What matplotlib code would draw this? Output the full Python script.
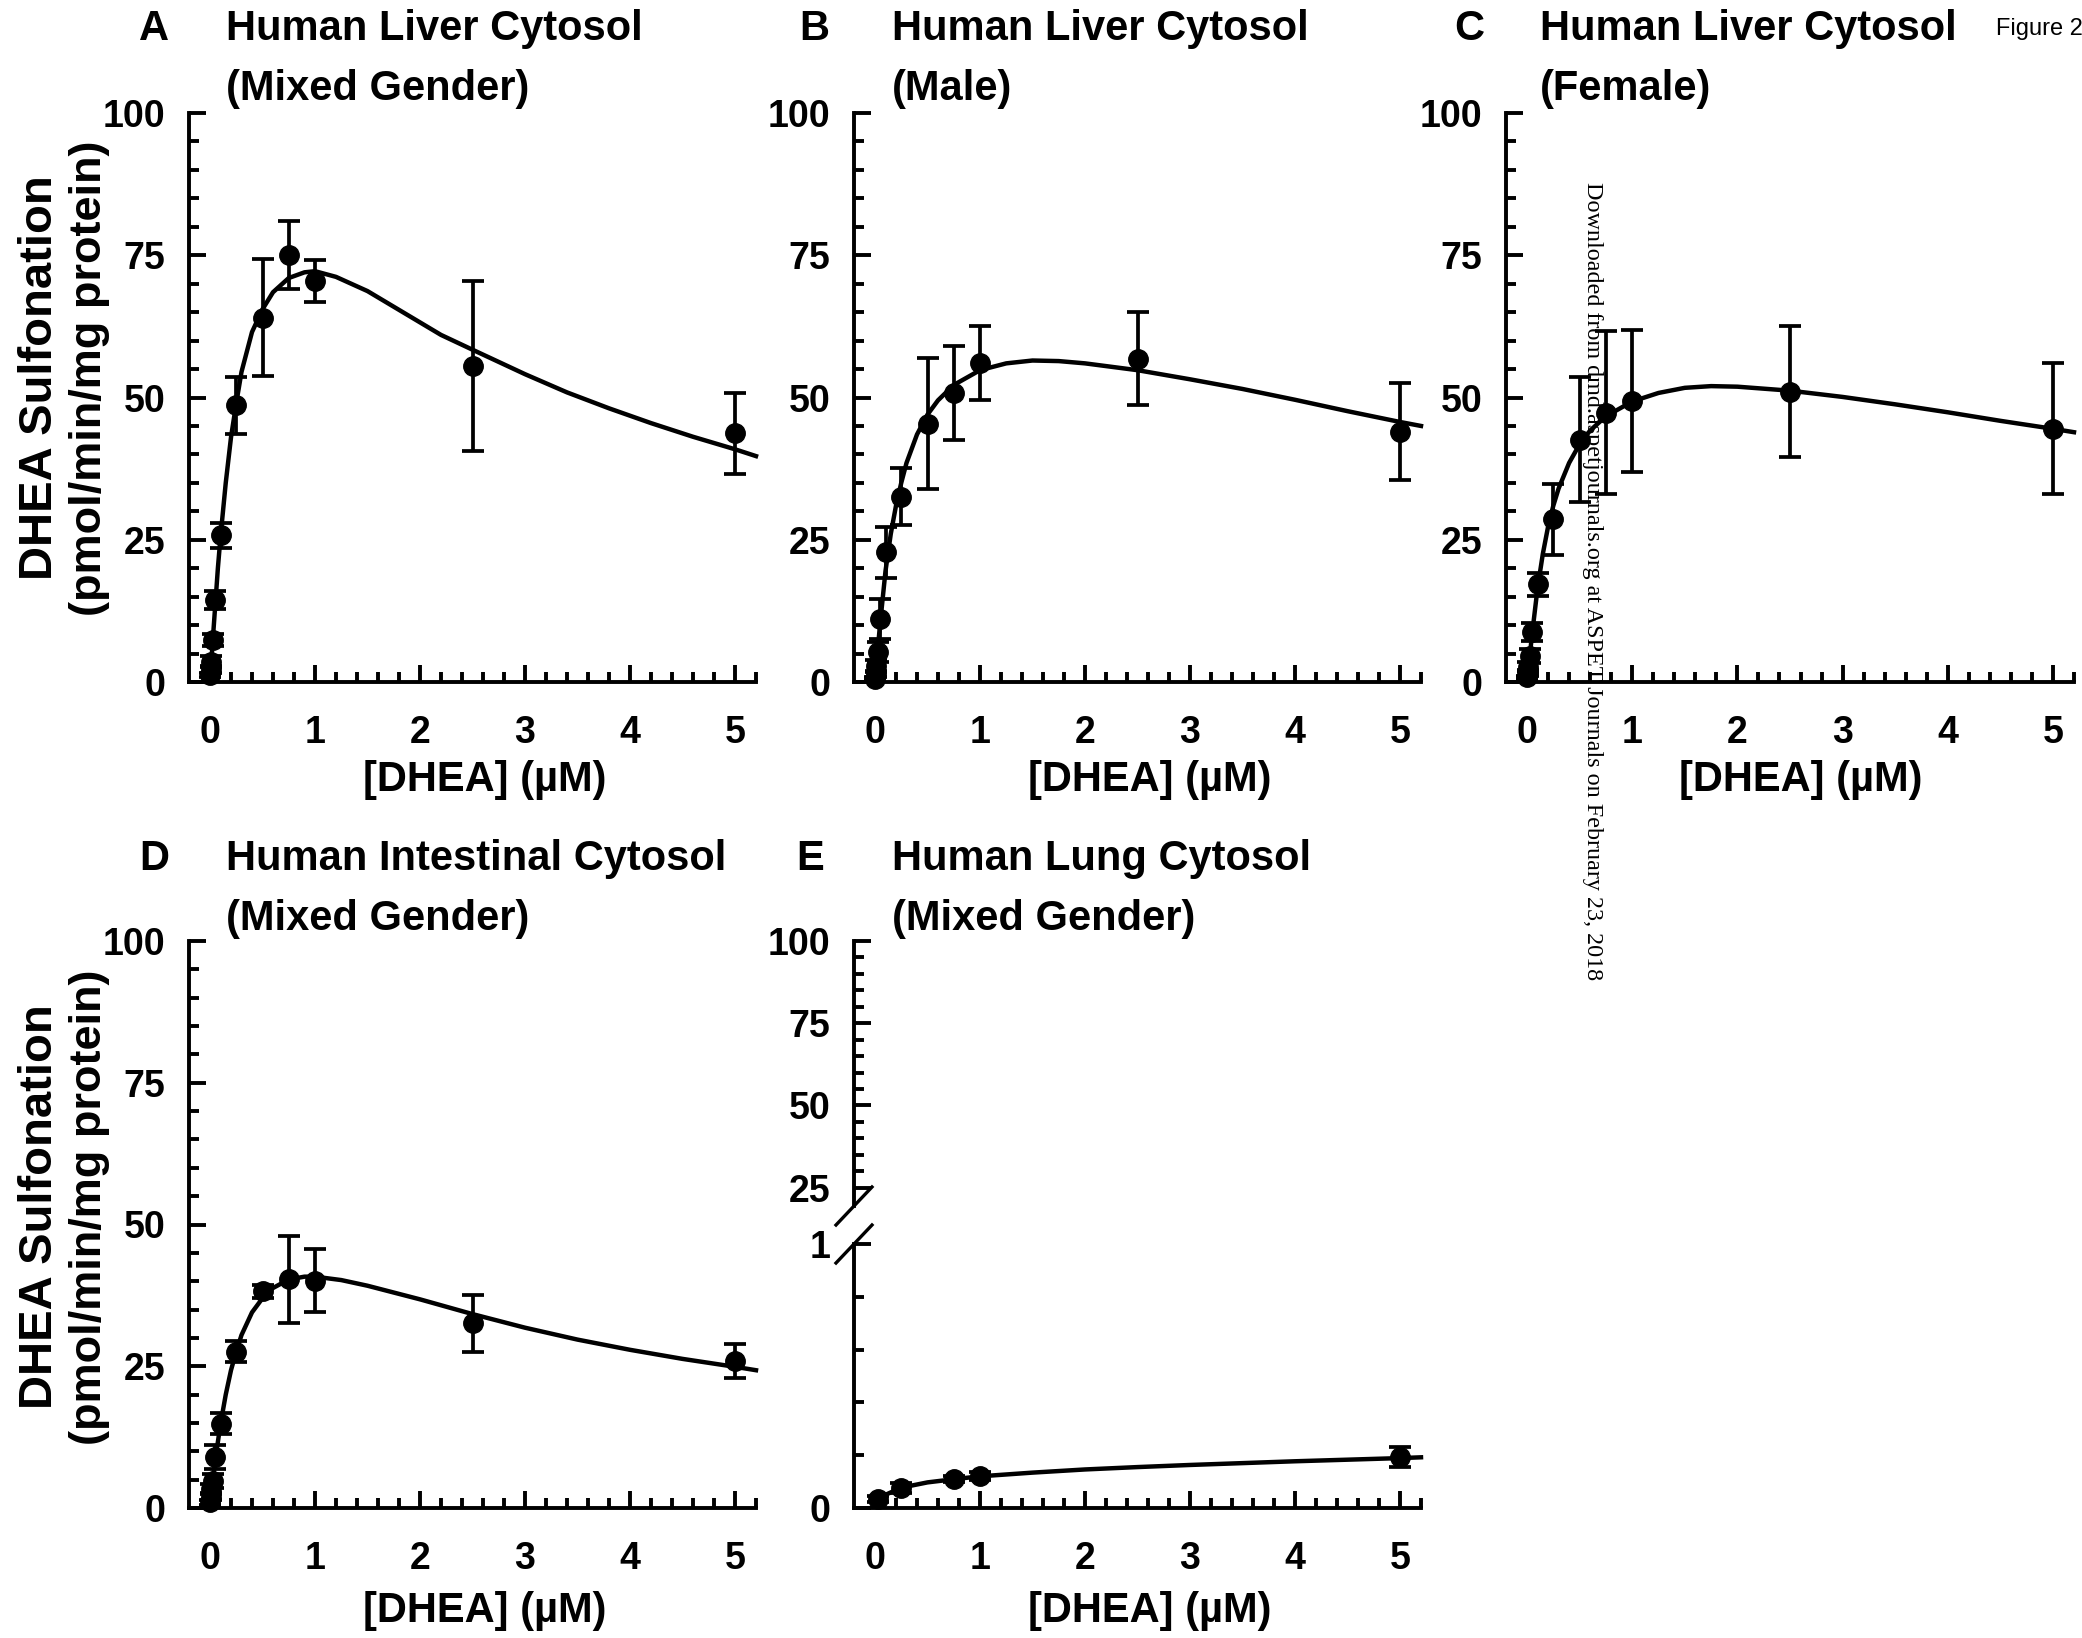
import numpy as np
import matplotlib
matplotlib.use('Agg')
import matplotlib.pyplot as plt
from matplotlib.ticker import FixedLocator
from matplotlib.lines import Line2D

plt.rcParams['font.family'] = ['Liberation Sans', 'DejaVu Sans']
plt.rcParams['font.weight'] = 'bold'

W, H = 2082, 1638

# measured concentrations (uM)
conc = [0.0025, 0.005, 0.01, 0.025, 0.05, 0.1, 0.25, 0.5, 0.75, 1, 2.5, 5]

# A: liver, mixed gender
a_mean = [1.2, 2.2, 3.6, 7.4, 14.4, 25.8, 48.6, 64.0, 75.0, 70.4, 55.5, 43.7]
a_sd = [0.4, 0.6, 0.9, 1.0, 1.6, 2.2, 5.0, 10.3, 6.0, 3.7, 14.9, 7.1]
# B: liver, male
b_mean = [0.6, 1.4, 2.8, 5.3, 11.0, 22.8, 32.6, 45.4, 50.8, 56.1, 56.8, 44.0]
b_sd = [0.3, 0.6, 1.0, 1.8, 3.5, 4.5, 5.0, 11.5, 8.2, 6.5, 8.2, 8.5]
# C: liver, female
c_mean = [0.8, 1.6, 2.6, 4.6, 8.8, 17.2, 28.6, 42.6, 47.3, 49.4, 51.0, 44.5]
c_sd = [0.3, 0.5, 0.9, 1.2, 1.6, 2.0, 6.2, 11.0, 14.3, 12.5, 11.5, 11.5]
# D: intestine
d_mean = [1.0, 2.0, 3.4, 4.8, 9.0, 14.9, 27.6, 38.2, 40.3, 40.1, 32.6, 26.0]
d_sd = [0.4, 0.6, 0.9, 1.2, 2.1, 1.8, 1.8, 1.2, 7.7, 5.5, 5.0, 3.0]
# E: lung
e_conc = [0.025, 0.25, 0.75, 1, 5]
e_mean = [0.035, 0.075, 0.11, 0.121, 0.192]
e_sd = [0.012, 0.018, 0.012, 0.014, 0.038]

# fitted curves
a_cx = [0, 0.025, 0.05, 0.075, 0.1, 0.15, 0.2, 0.25, 0.3, 0.4, 0.5, 0.6, 0.75, 0.9, 1.0,
        1.2, 1.5, 1.8, 2.2, 2.5, 3.0, 3.4, 3.8, 4.2, 4.6, 5.0, 5.2]
a_cy = [0, 7, 13.5, 20, 25.5, 35, 43, 49, 54.5, 61.5, 65.5, 68.5, 71, 72, 72.2,
        71.2, 68.7, 65.4, 61, 58.4, 54.1, 50.9, 48.1, 45.5, 43.1, 40.9, 39.7]
b_cx = [0, 0.025, 0.05, 0.1, 0.15, 0.2, 0.25, 0.3, 0.4, 0.5, 0.6, 0.75, 1.0, 1.25,
        1.5, 1.75, 2.0, 2.5, 3.0, 3.5, 4.0, 4.5, 5.0, 5.2]
b_cy = [0, 5.5, 10.5, 19.5, 26, 31, 35, 38.5, 43.5, 47, 49.5, 52.2, 54.8, 56,
        56.5, 56.4, 56, 54.8, 53.2, 51.5, 49.6, 47.6, 45.7, 45]
c_cx = [0, 0.025, 0.05, 0.1, 0.15, 0.2, 0.25, 0.3, 0.4, 0.5, 0.6, 0.75, 1.0, 1.25,
        1.5, 1.75, 2.0, 2.5, 3.0, 3.5, 4.0, 4.5, 5.0, 5.2]
c_cy = [0, 4.5, 8.7, 16.5, 22.5, 27.3, 31, 34, 38.5, 41.8, 44.2, 46.7, 49.3, 50.8,
        51.7, 52, 51.9, 51.2, 50.1, 48.8, 47.4, 45.9, 44.5, 43.9]
d_cx = [0, 0.025, 0.05, 0.1, 0.15, 0.2, 0.25, 0.3, 0.4, 0.5, 0.6, 0.75, 0.9, 1.0,
        1.25, 1.5, 2.0, 2.5, 3.0, 3.5, 4.0, 4.5, 5.0, 5.2]
d_cy = [0, 4.5, 8.5, 14.8, 20, 24.3, 27.6, 30.5, 34.5, 37, 38.8, 40.3, 40.8, 40.8,
        40.2, 39.2, 36.8, 34.2, 31.8, 29.7, 27.9, 26.3, 24.9, 24.3]
e_cx = [0, 0.1, 0.25, 0.5, 0.75, 1, 1.5, 2, 2.5, 3, 3.5, 4, 4.5, 5, 5.2]
e_cy = [0.03, 0.05, 0.077, 0.097, 0.109, 0.12, 0.134, 0.146, 0.155, 0.163, 0.17,
        0.177, 0.183, 0.189, 0.192]

titles = ['Human Liver Cytosol\n(Mixed Gender)', 'Human Liver Cytosol\n(Male)',
          'Human Liver Cytosol\n(Female)', 'Human Intestinal Cytosol\n(Mixed Gender)',
          'Human Lung Cytosol\n(Mixed Gender)']
letters = ['A', 'B', 'C', 'D', 'E']

fig = plt.figure(figsize=(W / 100, H / 100), dpi=100)


def add_ax(l, t, r, b):
    return fig.add_axes([l / W, 1 - b / H, (r - l) / W, (b - t) / H])


def ftext(x, y, s, **kw):
    fig.text(x / W, 1 - y / H, s, **kw)


LW = 2.8
TICKFS = 27


def style_x(ax):
    ax.set_xlim(-0.2, 5.2)
    ax.xaxis.set_major_locator(FixedLocator([0, 1, 2, 3, 4, 5]))
    minors = [round(v, 1) for v in np.arange(0.2, 5.25, 0.2) if abs(v - round(v)) > 0.01]
    ax.xaxis.set_minor_locator(FixedLocator(minors))
    ax.tick_params(axis='x', which='major', direction='in', length=12, width=LW,
                   pad=24, labelsize=TICKFS)
    ax.tick_params(axis='x', which='minor', direction='in', length=7, width=LW)


def style_y(ax):
    ax.tick_params(axis='y', which='major', direction='in', length=12, width=LW,
                   pad=17, labelsize=TICKFS)
    ax.tick_params(axis='y', which='minor', direction='in', length=7, width=LW)


def draw(ax, x, m, s, cx, cy):
    ax.plot(cx, cy, color='k', lw=3.2, clip_on=False, zorder=3)
    ax.errorbar(x, m, yerr=s, fmt='o', color='k', ms=14, capsize=8,
                elinewidth=2.7, capthick=2.7, clip_on=False, zorder=4)


boxes = [(189, 113, 756, 682), (854, 113, 1421, 682), (1506, 113, 2074, 682),
         (189, 941, 756, 1508)]
series = [(a_mean, a_sd, a_cx, a_cy), (b_mean, b_sd, b_cx, b_cy),
          (c_mean, c_sd, c_cx, c_cy), (d_mean, d_sd, d_cx, d_cy)]

for box, (m, s, cx, cy) in zip(boxes, series):
    ax = add_ax(*box)
    for sp in ['top', 'right']:
        ax.spines[sp].set_visible(False)
    for sp in ['left', 'bottom']:
        ax.spines[sp].set_linewidth(LW)
    draw(ax, conc, m, s, cx, cy)
    ax.set_ylim(0, 100)
    ax.yaxis.set_major_locator(FixedLocator([0, 25, 50, 75, 100]))
    ax.yaxis.set_minor_locator(FixedLocator([v for v in range(5, 100, 5) if v % 25]))
    style_x(ax)
    style_y(ax)

# E: broken y axis
l, t, r, b = 854, 941, 1421, 1508
brk_lo, brk_hi = 1244, 1206
ax_lo = add_ax(l, brk_lo, r, b)
ax_hi = add_ax(l, t, r, brk_hi)
for ax in (ax_lo, ax_hi):
    ax.spines['top'].set_visible(False)
    ax.spines['right'].set_visible(False)
    ax.spines['left'].set_linewidth(LW)
    ax.spines['bottom'].set_linewidth(LW)
    style_y(ax)
ax_hi.spines['bottom'].set_visible(False)
ax_hi.set_xlim(-0.2, 5.2)
ax_hi.set_xticks([])
ax_hi.set_ylim(19.4, 100)
ax_hi.yaxis.set_major_locator(FixedLocator([25, 50, 75, 100]))
ax_hi.yaxis.set_minor_locator(FixedLocator([v for v in range(30, 100, 5) if v % 25]))
ax_hi.patch.set_visible(False)

draw(ax_lo, e_conc, e_mean, e_sd, e_cx, e_cy)
ax_lo.set_ylim(0, 1)
ax_lo.yaxis.set_major_locator(FixedLocator([0, 1]))
ax_lo.yaxis.set_minor_locator(FixedLocator([0.2, 0.4, 0.6, 0.8]))
style_x(ax_lo)
ax_lo.patch.set_visible(False)

for yc in (brk_hi, brk_lo):
    fig.add_artist(Line2D([(l - 18) / W, (l + 18) / W], [1 - (yc + 19) / H, 1 - (yc - 19) / H],
                          color='k', lw=2.4, transform=fig.transFigure))

# titles and panel letters
letter_x = [154, 814, 1469, 154, 810]
row_y = [29, 29, 29, 859, 859]
title_x = [226, 892, 1540, 226, 892]
for i in range(5):
    ftext(letter_x[i], row_y[i], letters[i], fontsize=30, fontweight='bold',
          ha='center', va='center')
    l1, l2 = titles[i].split('\n')
    ftext(title_x[i], row_y[i], l1, fontsize=30, fontweight='bold', ha='left', va='center')
    ftext(title_x[i], row_y[i] + 60, l2, fontsize=30, fontweight='bold', ha='left', va='center')

# axis labels
for xc in (485, 1150, 1801):
    ftext(xc, 780, '[DHEA] (µM)', fontsize=30, fontweight='bold', ha='center', va='center')
for xc in (485, 1150):
    ftext(xc, 1611, '[DHEA] (µM)', fontsize=30, fontweight='bold', ha='center', va='center')
for yc in (378, 1207):
    ftext(40, yc, 'DHEA Sulfonation', fontsize=34, fontweight='bold', rotation=90,
          ha='center', va='center')
    ftext(90, yc, '(pmol/min/mg protein)', fontsize=32.5, fontweight='bold', rotation=90,
          ha='center', va='center')

ftext(1996, 29, 'Figure 2', fontsize=17, fontweight='normal', ha='left', va='center')
ftext(1592, 182, 'Downloaded from dmd.aspetjournals.org at ASPET Journals on February 23, 2018',
      fontsize=17.4, fontweight='normal', family=['Liberation Serif', 'DejaVu Serif'],
      rotation=-90, ha='center', va='top')

fig.savefig('out.png', dpi=100)
